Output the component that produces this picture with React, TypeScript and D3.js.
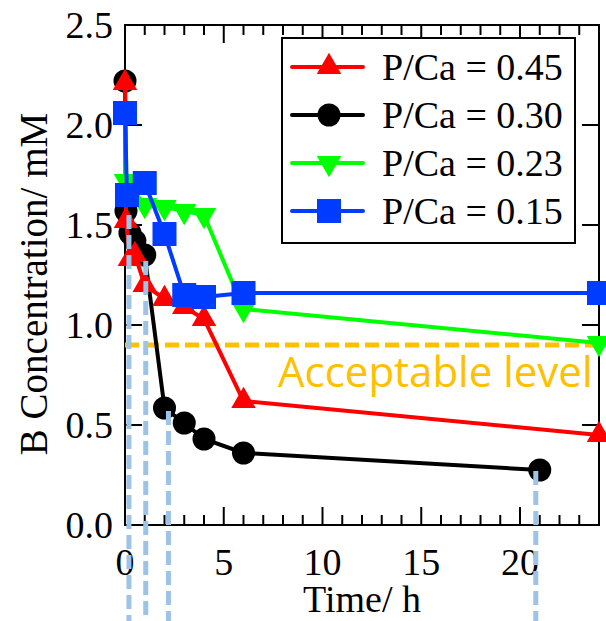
import React from "react";
import * as d3 from "d3";

// time (h) and B concentration (mM) for each P/Ca ratio
const redT = [0, 0.05, 0.25, 0.5, 1, 2, 3, 4, 6, 24];
const redV = [2.21, 1.52, 1.33, 1.35, 1.2, 1.13, 1.09, 1.03, 0.62, 0.45];
const blackT = [0, 0.05, 0.25, 0.5, 1, 2, 3, 4, 6, 21];
const blackV = [2.22, 1.57, 1.46, 1.42, 1.35, 0.585, 0.51, 0.43, 0.36, 0.275];
const greenT = [0, 0.05, 1, 2, 3, 4, 6, 24];
const greenV = [2.07, 1.72, 1.6, 1.59, 1.57, 1.55, 1.08, 0.91];
const blueT = [0, 0.1, 1, 2, 3, 4, 6, 24];
const blueV = [2.06, 1.65, 1.71, 1.455, 1.15, 1.14, 1.16, 1.16];

const legendLabels = ["P/Ca = 0.45", "P/Ca = 0.30", "P/Ca = 0.23", "P/Ca = 0.15"];
const xTickLabels = [0, 5, 10, 15, 20];
const yTickLabels = [0, 0.5, 1, 1.5, 2, 2.5];
const acceptable = 0.9;
// drop lines marking sampling times
const dropT = [0.2, 1.05, 2.2, 20.8];
const dropV = [1.55, 1.32, 0.57, 0.27];

const W = 606, H = 621;
const margin = { left: 125, right: 7, top: 25, bottom: 96 };
const serif = "'Liberation Serif', 'Times New Roman', serif";

const x = d3.scaleLinear().domain([0, 24]).range([margin.left, W - margin.right]);
const y = d3.scaleLinear().domain([0, 2.5]).range([H - margin.bottom, margin.top]);

const series = [
  { t: redT, v: redV, color: "#ff0000", shape: "tri" },
  { t: blackT, v: blackV, color: "#000000", shape: "circle" },
  { t: greenT, v: greenV, color: "#00ff00", shape: "itri" },
  { t: blueT, v: blueV, color: "#003cff", shape: "square" },
];

const drawOrder = [1, 0, 2, 3];

function Marker({ shape, color, cx, cy }) {
  if (shape === "circle") return <circle cx={cx} cy={cy} r={11.5} fill={color} />;
  if (shape === "square") return <rect x={cx - 12} y={cy - 12} width={24} height={24} fill={color} />;
  const tri = d3.symbol(d3.symbolTriangle, 260)();
  return (
    <path
      d={tri}
      fill={color}
      transform={`translate(${cx},${cy})${shape === "itri" ? " rotate(180)" : ""}`}
    />
  );
}

export default function App() {
  const line = d3.line();
  const [x0, x1] = x.range();
  const [y0, y1] = y.range();
  const minor = d3.range(1, 24).filter(d => d % 5 !== 0);

  return (
    <svg width={W} height={H} style={{ position: "absolute", left: 0, top: 0, background: "#fff" }}>
      {/* frame */}
      <rect x={x0} y={y1} width={x1 - x0} height={y0 - y1} fill="none" stroke="#000" strokeWidth={2} />
      {/* x ticks bottom and top */}
      {xTickLabels.map(d => (
        <g key={"xm" + d}>
          <line x1={x(d)} x2={x(d)} y1={y0} y2={y0 - 18} stroke="#000" strokeWidth={2} />
          <line x1={x(d)} x2={x(d)} y1={y1} y2={y1 + 18} stroke="#000" strokeWidth={2} />
          <text x={x(d)} y={y0 + 50} textAnchor="middle" fontFamily={serif} fontSize={38}>{d}</text>
        </g>
      ))}
      {minor.map(d => (
        <g key={"xn" + d}>
          <line x1={x(d)} x2={x(d)} y1={y0} y2={y0 - 10} stroke="#000" strokeWidth={2} />
          <line x1={x(d)} x2={x(d)} y1={y1} y2={y1 + 10} stroke="#000" strokeWidth={2} />
        </g>
      ))}
      {/* y ticks left and right */}
      {yTickLabels.map(d => (
        <g key={"y" + d}>
          <line x1={x0} x2={x0 + 17} y1={y(d)} y2={y(d)} stroke="#000" strokeWidth={2} />
          <line x1={x1} x2={x1 - 17} y1={y(d)} y2={y(d)} stroke="#000" strokeWidth={2} />
          <text x={x0 - 12} y={y(d) + 13} textAnchor="end" fontFamily={serif} fontSize={38}>
            {d.toFixed(1)}
          </text>
        </g>
      ))}
      <text x={(x0 + x1) / 2} y={612} textAnchor="middle" fontFamily={serif} fontSize={38}>Time/ h</text>
      <text
        transform={`translate(47,${(y0 + y1) / 2 + 9}) rotate(-90)`}
        textAnchor="middle"
        fontFamily={serif}
        fontSize={39}
      >
        B Concentration/ mM
      </text>

      {/* acceptable level */}
      <line x1={x0} x2={x1} y1={y(acceptable)} y2={y(acceptable)} stroke="#ffc000" strokeWidth={5} strokeDasharray="14 6" />
      <text x={278} y={387} fontFamily="'Open Sans', sans-serif" fontSize={42} fill="#ffc000">Acceptable level</text>

      {/* series */}
      {drawOrder.map(i => {
        const s = series[i];
        const pts = s.t.map((t, j) => [x(t), y(s.v[j])]);
        return (
          <g key={"s" + i}>
            <path d={line(pts)} fill="none" stroke={s.color} strokeWidth={4} />
            {pts.map((p, j) => (
              <Marker key={j} shape={s.shape} color={s.color} cx={p[0]} cy={p[1]} />
            ))}
          </g>
        );
      })}

      {/* drop lines */}
      {dropT.map((t, i) => (
        <line key={"d" + i} x1={x(t)} x2={x(t)} y1={y(dropV[i])} y2={H} stroke="#9dc3e6" strokeWidth={5} strokeDasharray="14 6" />
      ))}

      {/* legend */}
      <rect x={282} y={38} width={293} height={205} fill="#fff" stroke="#000" strokeWidth={2} />
      {series.map((s, i) => {
        const cy = 67 + i * 48;
        return (
          <g key={"l" + i}>
            <line x1={292} x2={363} y1={cy} y2={cy} stroke={s.color} strokeWidth={4} strokeLinecap="round" />
            <Marker shape={s.shape} color={s.color} cx={329} cy={cy} />
            <text x={382} y={cy + 13} fontFamily={serif} fontSize={38}>{legendLabels[i]}</text>
          </g>
        );
      })}
    </svg>
  );
}
